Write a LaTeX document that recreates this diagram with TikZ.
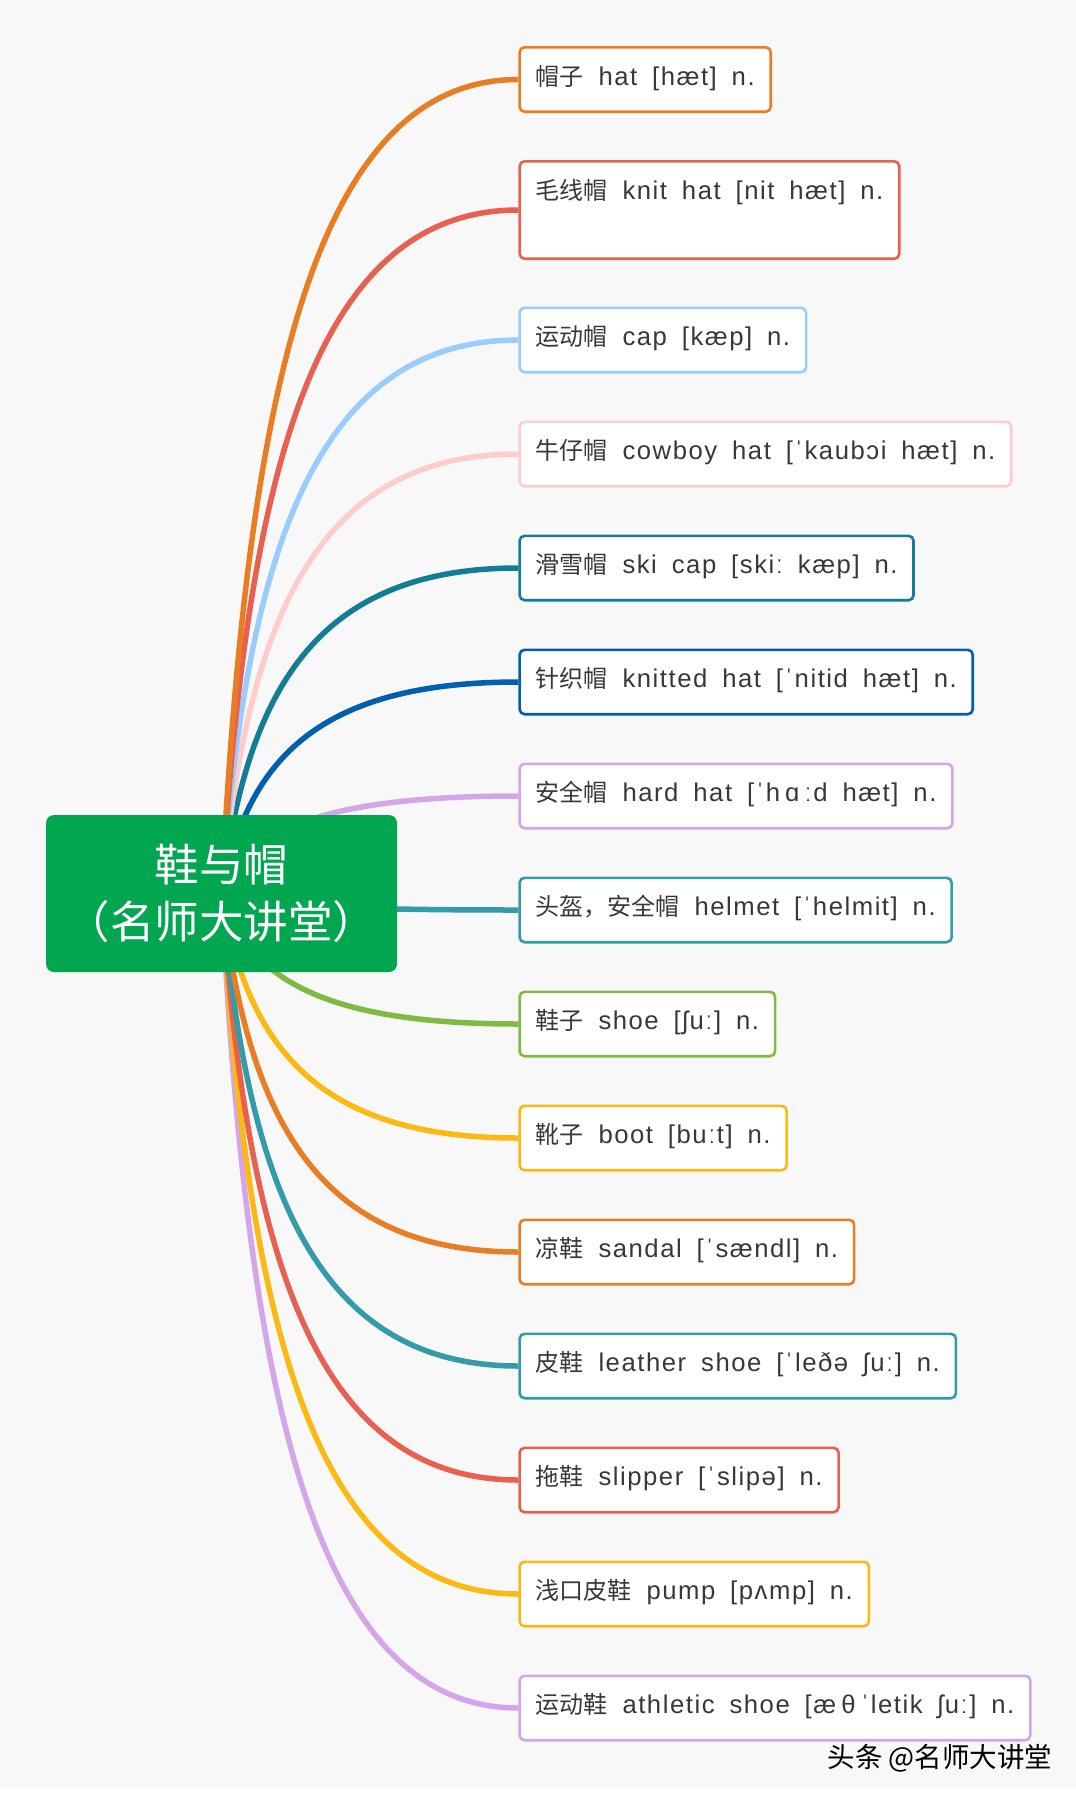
\documentclass[tikz,border=0pt]{standalone}
\usepackage{fontspec}
\setmainfont{Liberation Sans}[Scale=1.07, LetterSpace=6]
\newfontfamily\cjk{Noto Sans CJK SC}
\usepackage{xcolor}
\usetikzlibrary{calc, backgrounds}
\definecolor{canvas}{HTML}{F8F8F8}
\definecolor{kelly}{HTML}{00A650}
\definecolor{inkgrey}{HTML}{383838}
\definecolor{carrot}{HTML}{E87D23}
\definecolor{coral}{HTML}{E8604F}
\definecolor{skyblue}{HTML}{99CCFF}
\definecolor{blush}{HTML}{FFCCCC}
\definecolor{petrol}{HTML}{137D96}
\definecolor{cobalt}{HTML}{005FAF}
\definecolor{lilac}{HTML}{D4A5E8}
\definecolor{lagoon}{HTML}{339CA8}
\definecolor{grass}{HTML}{7FBA42}
\definecolor{amber}{HTML}{FDB913}

\begin{document}
\begin{tikzpicture}[
  x=1pt, y=-1pt,
  hubbox/.style={
    rectangle, rounded corners=8pt,
    fill=kelly, text=white, font=\cjk\fontsize{44.5}{57}\selectfont,
    minimum width=351pt, minimum height=157pt,
    align=center
  },
  leafbox/.style={
    rectangle, rounded corners=5pt,
    fill=white, line width=2.6pt, text=inkgrey,
    font={\fontsize{24}{29}\selectfont\spaceskip=0.58em\relax},
    anchor=west, inner xsep=16pt, inner ysep=20.7pt,
    text height=17pt, text depth=6pt
  },
  branch/.style={
    line width=5.5pt,
    to path={.. controls ($(\tikztostart)!0.6!(\tikztostart |- \tikztotarget) + (25,0)$)
      and ($(\tikztotarget)!0.7!(\tikztostart |- \tikztotarget)$) .. (\tikztotarget)}
  }
]

%% canvas is 1076 x 1799 px, 1pt per px, y runs downwards
\useasboundingbox (0,0) rectangle (1076,1799);

%% ─── CENTRAL TOPIC ──────────────────────────────────────────────────────────
\node[hubbox] (hub) at (221.5, 893.5)
  {鞋与帽\\（名师大讲堂）};

%% ─── HATS (leaves 1-8, left edge at x = 518) ────────────────────────────────
\node[leafbox, draw=carrot] (hat1) at (518.3, 79.5)
  {{\cjk 帽子} hat [hæt] n.};
\node[leafbox, draw=coral, text depth=39pt] (hat2) at (518.3, 210)
  {{\cjk 毛线帽} knit hat [nit hæt] n.};
\node[leafbox, draw=skyblue] (hat3) at (518.3, 340)
  {{\cjk 运动帽} cap [kæp] n.};
\node[leafbox, draw=blush] (hat4) at (518.3, 454)
  {{\cjk 牛仔帽} cowboy hat [ˈkaubɔi hæt] n.};
\node[leafbox, draw=petrol] (hat5) at (518.3, 568)
  {{\cjk 滑雪帽} ski cap [skiː kæp] n.};
\node[leafbox, draw=cobalt] (hat6) at (518.3, 682)
  {{\cjk 针织帽} knitted hat [ˈnitid hæt] n.};
\node[leafbox, draw=lilac] (hat7) at (518.3, 796)
  {{\cjk 安全帽} hard hat [ˈh\hspace{.2em}ɑ\hspace{.2em}ːd hæt] n.};
\node[leafbox, draw=lagoon] (hat8) at (518.3, 910)
  {{\cjk 头盔，安全帽} helmet [ˈhelmit] n.};

%% ─── SHOES (leaves 9-15) ────────────────────────────────────────────────────
\node[leafbox, draw=grass] (shoe1) at (518.3, 1024)
  {{\cjk 鞋子} shoe [ʃuː] n.};
\node[leafbox, draw=amber] (shoe2) at (518.3, 1138)
  {{\cjk 靴子} boot [buːt] n.};
\node[leafbox, draw=carrot] (shoe3) at (518.3, 1252)
  {{\cjk 凉鞋} sandal [ˈsændl] n.};
\node[leafbox, draw=lagoon] (shoe4) at (518.3, 1366)
  {{\cjk 皮鞋} leather shoe [ˈleðə ʃuː] n.};
\node[leafbox, draw=coral] (shoe5) at (518.3, 1480)
  {{\cjk 拖鞋} slipper [ˈslipə] n.};
\node[leafbox, draw=amber] (shoe6) at (518.3, 1594)
  {{\cjk 浅口皮鞋} pump [pʌmp] n.};
\node[leafbox, draw=lilac] (shoe7) at (518.3, 1708)
  {{\cjk 运动鞋} athletic shoe [æ\hspace{.2em}θ\hspace{.2em}ˈletik ʃuː] n.};

%% watermark, bottom right
\node[font=\cjk\fontsize{27.5}{32}\selectfont, text=black] (mark) at (940, 1758)
  {头条 @名师大讲堂};

%% ─── CURVED BRANCHES (behind the boxes) ─────────────────────────────────────
\begin{scope}[on background layer]
  \fill[canvas] (0,0) rectangle (1076,1787);
  \fill[white] (0,1787) rectangle (1076,1799);

  \draw[branch, lilac] (hub.center) to (shoe7.west);
  \draw[branch, amber] (hub.center) to (shoe6.west);
  \draw[branch, coral] (hub.center) to (shoe5.west);
  \draw[branch, lagoon] (hub.center) to (shoe4.west);
  \draw[branch, carrot] (hub.center) to (shoe3.west);
  \draw[branch, amber] (hub.center) to (shoe2.west);
  \draw[branch, grass] (hub.center) to (shoe1.west);
  \draw[branch, lagoon] (hub.center) to (hat8.west);
  \draw[branch, lilac] (hub.center) to (hat7.west);
  \draw[branch, cobalt] (hub.center) to (hat6.west);
  \draw[branch, petrol] (hub.center) to (hat5.west);
  \draw[branch, blush] (hub.center) to (hat4.west);
  \draw[branch, skyblue] (hub.center) to (hat3.west);
  \draw[branch, coral] (hub.center) to (hat2.west);
  \draw[branch, carrot] (hub.center) to (hat1.west);
\end{scope}

\end{tikzpicture}
\end{document}
